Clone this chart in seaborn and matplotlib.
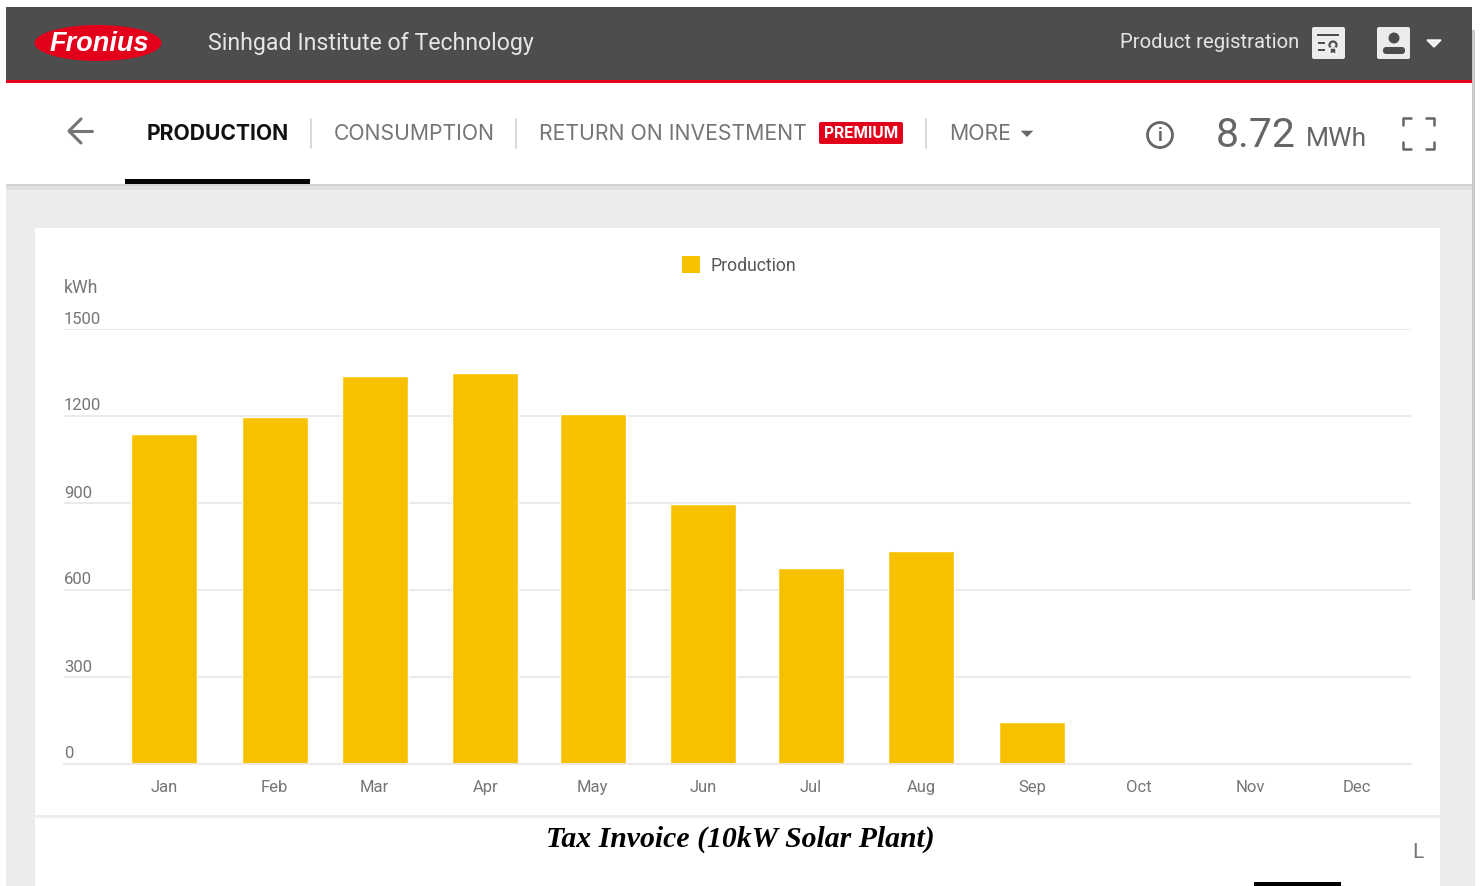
import numpy as np
import pandas as pd
import matplotlib
matplotlib.use('Agg')
import matplotlib.pyplot as plt
from matplotlib.patches import Rectangle, Ellipse, FancyBboxPatch, Polygon, Circle
import seaborn as sns

# Monthly production (kWh), Oct-Dec are empty
months = ['Jan', 'Feb', 'Mar', 'Apr', 'May', 'Jun', 'Jul', 'Aug', 'Sep', 'Oct', 'Nov', 'Dec']
month_start_day = [0, 31, 59, 90, 120, 151, 181, 212, 243, 273, 304, 334]
production = [1138, 1197, 1338, 1349, 1207, 897, 676, 735, 145, 0, 0, 0]
y_ticks = [0, 300, 600, 900, 1200, 1500]

sns.set_theme(style='white')
plt.rcParams['font.family'] = ['Roboto', 'DejaVu Sans']

W, H = 1480, 886
fig = plt.figure(figsize=(W / 100, H / 100), dpi=100, facecolor='white')

# Full figure layer in pixel coordinates for the app chrome
bg = fig.add_axes([0, 0, 1, 1], zorder=0)
bg.set_xlim(0, W)
bg.set_ylim(H, 0)
bg.axis('off')

GREY = '#757575'
NAV_FONT = ['Inter', 'Roboto']

def rect(x0, y0, x1, y1, color, **kw):
    bg.add_patch(Rectangle((x0, y0), x1 - x0, y1 - y0, facecolor=color, edgecolor='none', **kw))

# Page background, cards, header
rect(6, 184, 1475, 886, '#ebeded')
rect(1472, 30, 1475, 600, '#c9c9c9')
rect(6, 184, 1472, 186, '#d0d2d2')
rect(6, 186, 1472, 190, '#dfe1e1')
rect(35, 228, 1440, 815, 'white')
rect(35, 815, 1440, 818, '#eeeeee')
rect(35, 818, 1440, 886, 'white')
rect(6, 7, 1472, 80, '#4d4d4d')
rect(6, 80, 1472, 83, '#e2001a')
rect(6, 83, 1472, 184, 'white')
rect(125, 179, 310, 184, 'black')
rect(1254, 882, 1341, 886, 'black')

# Logo
bg.add_patch(Ellipse((98, 43), 127, 36, facecolor='#e2001a', edgecolor='none'))
bg.text(99, 44, 'Fronius', color='white', fontsize=19.5, fontweight='bold', style='italic',
        ha='center', va='center', family='Liberation Sans')

# Top bar text and icons
bg.text(208, 43.5, 'Sinhgad Institute of Technology', color='#e4e6e6', fontsize=16.65, ha='left', va='center')
bg.text(1299, 42.5, 'Product registration', color='#e4e6e6', fontsize=14.6, ha='right', va='center')
bg.add_patch(FancyBboxPatch((1312, 27), 33, 32, boxstyle='round,pad=0,rounding_size=2', facecolor='#ebeded', edgecolor='none'))
rect(1317, 34, 1339, 36, '#4d4d4d')
rect(1318, 42, 1325, 44, '#4d4d4d')
rect(1318, 49, 1325, 51, '#4d4d4d')
bg.add_patch(Circle((1333, 45), 3.5, facecolor='none', edgecolor='#4d4d4d', linewidth=1.6))
bg.add_patch(Polygon([(1330, 48), (1336, 48), (1336, 55), (1333, 53), (1330, 55)], facecolor='#4d4d4d'))
bg.add_patch(FancyBboxPatch((1377, 27), 33, 32, boxstyle='round,pad=0,rounding_size=2', facecolor='#ebeded', edgecolor='none'))
bg.add_patch(Circle((1394, 38), 5.5, facecolor='#4d4d4d', edgecolor='none'))
bg.add_patch(FancyBboxPatch((1383, 47), 22, 7, boxstyle='round,pad=0,rounding_size=3', facecolor='#4d4d4d', edgecolor='none'))
bg.add_patch(Polygon([(1427, 40), (1441, 40), (1434, 47)], facecolor='#ebeded'))

# Nav row
bg.plot([81, 69, 81], [119, 131, 143], color=GREY, linewidth=2.2)
bg.plot([69, 92], [131, 131], color=GREY, linewidth=2.2)
bg.text(147, 134, 'PRODUCTION', color='#111111', fontsize=15.2, fontweight='bold', ha='left', va='center', family=NAV_FONT)
bg.text(334, 134, 'CONSUMPTION', color=GREY, fontsize=15.2, ha='left', va='center', family=NAV_FONT)
bg.text(539, 134, 'RETURN ON INVESTMENT', color=GREY, fontsize=15.3, ha='left', va='center', family=NAV_FONT)
bg.text(949, 134, 'MORE', color=GREY, fontsize=15.3, ha='left', va='center', family=NAV_FONT)
for x in [311, 516, 926]:
    bg.plot([x, x], [119, 148], color='#d5d5d5', linewidth=1.3)
bg.add_patch(FancyBboxPatch((819, 122), 84, 22, boxstyle='round,pad=0,rounding_size=2', facecolor='#e2001a', edgecolor='none'))
bg.text(861, 133.5, 'PREMIUM', color='white', fontsize=11.2, fontweight='bold', ha='center', va='center', family=NAV_FONT)
bg.add_patch(Polygon([(1019, 130), (1035, 130), (1027, 138)], facecolor='#666666'))

# Right side of nav row
bg.add_patch(Circle((1160, 135), 12.5, facecolor='none', edgecolor='#666666', linewidth=2))
bg.text(1160, 135.5, 'i', color='#666666', fontsize=13, fontweight='bold', ha='center', va='center')
bg.text(1216, 135.5, '8.72', color='#666666', fontsize=29.5, ha='left', va='center')
bg.text(1306, 138.5, 'MWh', color='#666666', fontsize=19, ha='left', va='center')
for cx, cy, dx, dy in [(1403, 118, 1, 1), (1434, 118, -1, 1), (1403, 149, 1, -1), (1434, 149, -1, -1)]:
    bg.plot([cx + 8 * dx, cx, cx], [cy, cy, cy + 7 * dy], color='#666666', linewidth=1.8)

# Legend and axis unit
rect(682, 256, 700, 273, '#f8c100')
bg.text(710, 266, 'Production', color='#555555', fontsize=12.7, ha='left', va='center')
bg.text(64, 288, 'kWh', color=GREY, fontsize=12.7, ha='left', va='center')

# Caption under the card
bg.text(740, 839, 'Tax Invoice (10kW Solar Plant)', color='black', fontsize=21.4, fontweight='bold', style='italic',
        family='Liberation Serif', ha='center', va='center')
bg.text(1418, 852, 'L', color=GREY, fontsize=15, ha='center', va='center')

# Chart axes, placed to the pixel box of the gridlines
ax_l, ax_r, ax_t, ax_b = 64, 1411, 329, 764
ax = fig.add_axes([ax_l / W, 1 - ax_b / H, (ax_r - ax_l) / W, (ax_b - ax_t) / H], zorder=1)
ax.patch.set_alpha(0)

df = pd.DataFrame({'day': month_start_day, 'production': production})
# x is a time scale, so the month spacing is uneven like in the original
sns.barplot(data=df, x='day', y='production', native_scale=True, color='#f8c100', saturation=1,
            width=0.66, ax=ax, zorder=2)

px_per_day = (1357 - 164) / 334
ax.set_xlim((ax_l - 164) / px_per_day, (ax_r - 164) / px_per_day)
ax.set_ylim(0, 1500)
ax.set_xlabel('')
ax.set_ylabel('')
ax.set_xticks(month_start_day)
ax.set_xticklabels(months)
ax.set_yticks(y_ticks)
ax.set_yticklabels([str(v) for v in y_ticks])
ax.grid(axis='y', color='#e8e8e8', linewidth=1.3, zorder=0)
ax.set_axisbelow(True)
sns.despine(ax=ax, left=True, top=True, right=True)
ax.spines['bottom'].set_color('#e8e8e8')
ax.spines['bottom'].set_linewidth(1.3)
ax.tick_params(axis='x', length=10, width=1, color='#e8e8e8', labelcolor=GREY, labelsize=12, pad=1.2)
# y labels sit inside the plot, left aligned on top of the gridlines
ax.tick_params(axis='y', length=0, labelcolor=GREY, labelsize=12, pad=0)
for lab in ax.get_yticklabels():
    lab.set_horizontalalignment('left')
    lab.set_verticalalignment('bottom')
    lab.set_transform(lab.get_transform() + matplotlib.transforms.ScaledTranslation(0, 1.8 / 72, fig.dpi_scale_trans))

fig.savefig('out.png', dpi=100, facecolor='white')
